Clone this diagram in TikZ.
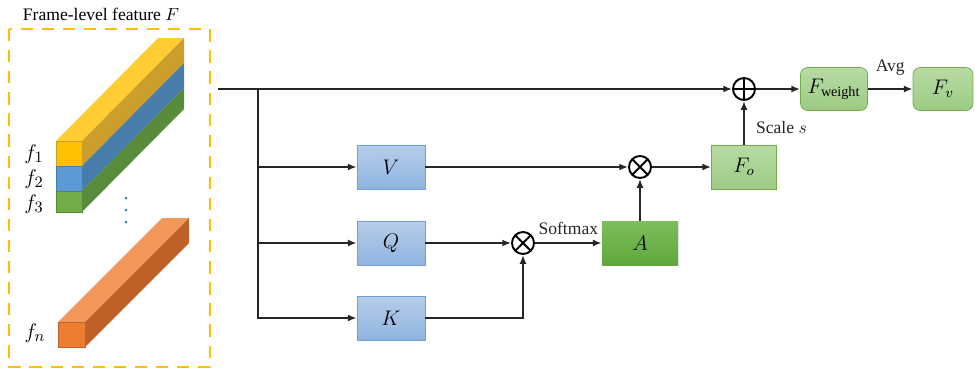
\documentclass[tikz,border=0pt]{standalone}
\usepackage{fontspec}
\setmainfont{Liberation Serif}
\usetikzlibrary{arrows.meta,shadows}

\definecolor{dashorange}{HTML}{FFC000}
\definecolor{boxblue}{HTML}{8FB4E0}
\definecolor{boxbluelt}{HTML}{B7CDEA}
\definecolor{lineblue}{HTML}{6FA0DC}
\definecolor{boxgreen}{HTML}{9CCB84}
\definecolor{boxgreenlt}{HTML}{B8DBA4}
\definecolor{linegreen}{HTML}{70AD47}
\definecolor{darkgreen}{HTML}{5FA83A}
\definecolor{darkgreenlt}{HTML}{7DBD5C}
% bar faces
\definecolor{ytop}{HTML}{FFCD33}
\definecolor{yfront}{HTML}{FFC000}
\definecolor{yside}{HTML}{CC9E2C}
\definecolor{bfront}{HTML}{5B9BD5}
\definecolor{bside}{HTML}{477CAB}
\definecolor{gfront}{HTML}{70AD47}
\definecolor{gside}{HTML}{588B3A}
\definecolor{otop}{HTML}{F2985A}
\definecolor{ofront}{HTML}{ED7D31}
\definecolor{oside}{HTML}{BF6128}
\definecolor{dotblue}{HTML}{3A86C8}

\tikzset{
  conn/.style={line width=1.1pt, color=black!85},
  arr/.style={conn, -{Latex[length=5pt,width=4pt]}},
  boxfont/.style={font=\fontsize{11.5}{13}\selectfont},
  qkv/.style={boxfont, draw=lineblue, top color=boxbluelt, bottom color=boxblue, minimum width=1.36cm, minimum height=0.88cm},
  outbox/.style={boxfont, draw=linegreen, top color=boxgreenlt, bottom color=boxgreen, minimum width=1.3cm, minimum height=0.88cm},
  attbox/.style={boxfont, draw=none, top color=darkgreenlt, bottom color=darkgreen, minimum width=1.52cm, minimum height=0.88cm,
    drop shadow={opacity=0.25, shadow xshift=0.6pt, shadow yshift=-0.8pt}},
  mul/.style={circle, draw, line width=1.1pt, minimum size=0.44cm, inner sep=0pt,
    path picture={\draw[line width=1.1pt] (path picture bounding box.north west) -- (path picture bounding box.south east)
      (path picture bounding box.north east) -- (path picture bounding box.south west);}},
  add/.style={circle, draw, line width=1.1pt, minimum size=0.44cm, inner sep=0pt,
    path picture={\draw[line width=1.1pt] (path picture bounding box.north) -- (path picture bounding box.south)
      (path picture bounding box.east) -- (path picture bounding box.west);}},
  flabel/.style={font=\fontsize{13}{15}\selectfont},
}

\begin{document}
\begin{tikzpicture}[x=0.02cm, y=-0.02cm, font=\fontsize{10}{12}\selectfont]
			%%%%% START %%%%%
			\useasboundingbox (0, 0) rectangle (975, 373);
			
			% frame-level features
			\draw[line width=1.6pt, color=dashorange, dash pattern=on 7pt off 5pt] (9, 29) rectangle (210, 367);
			\node (title) at (101, 14) {Frame-level feature $F$};
			
			\fill[color=ytop] (56, 141) -- (82, 141) -- (184, 38) -- (158, 38) -- cycle;
			\fill[color=yside] (82, 141) -- (184, 38) -- (184, 63) -- (82, 166) -- cycle;
			\fill[color=bside] (82, 166) -- (184, 63) -- (184, 88) -- (82, 191) -- cycle;
			\fill[color=gside] (82, 191) -- (184, 88) -- (184, 109) -- (82, 212) -- cycle;
			\draw[fill=yfront, draw=yside] (56, 141) rectangle (82, 166);
			\draw[fill=bfront, draw=bside] (56, 166) rectangle (82, 191);
			\draw[fill=gfront, draw=gside] (56, 191) rectangle (82, 212);
			
			\fill[color=otop] (58, 322) -- (85, 322) -- (189, 218) -- (162, 218) -- cycle;
			\fill[color=oside] (85, 322) -- (189, 218) -- (189, 243) -- (85, 347) -- cycle;
			\draw[fill=ofront, draw=oside] (58, 322) rectangle (85, 347);
			
			\foreach \y in {198, 210, 222}
				\fill[color=dotblue] (126, \y) circle (1.5);
			
			\node[flabel] (f1) at (34, 154) {$f_1$};
			\node[flabel] (f2) at (34, 179) {$f_2$};
			\node[flabel] (f3) at (34, 204) {$f_3$};
			\node[flabel] (fn) at (35, 333) {$f_n$};
			
			% attention branch
			\coordinate (start) at (218, 89);
			\coordinate (split) at (258, 89);
			
			\node[qkv] (V) at (391, 167) {$V$};
			\node[qkv] (Q) at (391, 243) {$Q$};
			\node[qkv] (K) at (391, 318) {$K$};
			
			\node[mul] (mulQK) at (523, 243) {};
			\node[attbox] (A) at (640, 243) {$A$};
			\node[mul] (mulAV) at (640, 167) {};
			\node[outbox] (Fo) at (744, 167) {$F_o$};
			\node[add] (addF) at (744, 89) {};
			\node[outbox, rounded corners=4pt, minimum width=1.34cm, minimum height=0.86cm] (Fw) at (834, 89) {$F_{\mathrm{weight}}$};
			\node[outbox, rounded corners=4pt, minimum width=1.2cm, minimum height=0.86cm] (Fv) at (943, 89) {$F_v$};
			
			\draw[arr] (start) -- (addF);
			\draw[arr] (split) |- (V);
			\draw[arr] (split) |- (Q);
			\draw[arr] (split) |- (K);
			
			\draw[arr] (V) -- (mulAV);
			\draw[arr] (Q) -- (mulQK);
			\draw[arr] (K) -| (mulQK);
			\draw[arr] (mulQK) -- node[above=1pt] (softmax) {Softmax} (A);
			\draw[arr] (A) -- (mulAV);
			\draw[arr] (mulAV) -- (Fo);
			\draw[arr] (Fo) -- node[right=3pt, pos=0.4] (scale) {Scale $s$} (addF);
			\draw[arr] (addF) -- (Fw);
			\draw[arr] (Fw) -- node[above=4pt] (avg) {Avg} (Fv);
			
			%%%%% END %%%%%
\end{tikzpicture}
\end{document}
